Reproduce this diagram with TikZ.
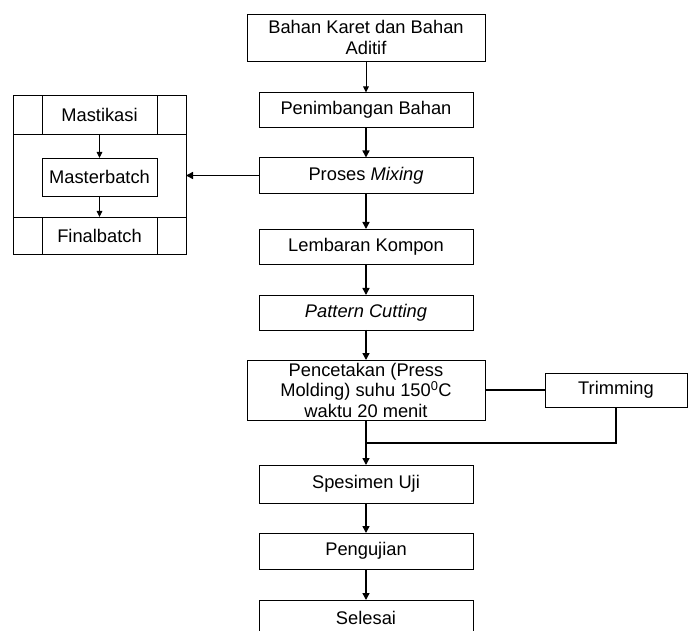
\documentclass[tikz,border=0pt]{standalone}
\usepackage{fontspec}
\setmainfont{Liberation Sans}
\usetikzlibrary{arrows.meta}
\begin{document}
\begin{tikzpicture}[x=1pt,y=-1pt,
  every node/.style={inner sep=0pt, outer sep=0pt, font=\fontsize{18.3}{20.5}\selectfont},
  box/.style={draw, line width=0.9pt, align=center, minimum width=#1},
  box/.default=214pt,
  thick arr/.style={line width=1.5pt, -{Triangle[length=7pt,width=7pt]}},
  thin arr/.style={line width=0.9pt, -{Triangle[length=6pt,width=5.5pt]}},
  plain/.style={line width=1.5pt}]
\useasboundingbox (0,0) rectangle (694,631);
\clip (0,0) rectangle (694,631);
% main column
\node[box=238pt, minimum height=47pt] (b1) at (366,37.5) {Bahan Karet dan Bahan\\Aditif};
\node[box, minimum height=35pt] (b2) at (366,110) {Penimbangan Bahan};
\node[box, minimum height=36pt] (b3) at (366,175.5) {Proses \textit{Mixing}};
\node[box, minimum height=35pt] (b4) at (366,246.5) {Lembaran Kompon};
\node[box, minimum height=35pt] (b5) at (366,312.5) {\textit{Pattern Cutting}};
\node[box=238pt, minimum height=60pt] (b6) at (366,390) {Pencetakan (Press\\Molding) suhu 150\textsuperscript{0}C\\waktu 20 menit};
\node[box=142pt, minimum height=34pt] (trim) at (616,390) {Trimming};
\node[box, minimum height=38pt] (b7) at (366,484) {Spesimen Uji};
\node[box, minimum height=36pt] (b8) at (366,551) {Pengujian};
\node[box, minimum height=36pt] (b9) at (366,618) {Selesai};
\coordinate (m) at (366,443);
% left group
\node[draw, line width=0.9pt, minimum width=173pt, minimum height=159pt] (grp) at (99.5,174.5) {};
\node[draw, line width=0.9pt, minimum width=173pt, minimum height=39pt] (mrow) at (99.5,114.5) {};
\node[box=115pt, minimum height=39pt] (mast) at (99.5,114.5) {Mastikasi};
\node[box=115pt, minimum height=38pt] (mb) at (99.5,177) {Masterbatch};
\node[draw, line width=0.9pt, minimum width=173pt, minimum height=37pt] (frow) at (99.5,235.5) {};
\node[box=115pt, minimum height=37pt] (fb) at (99.5,235.5) {Finalbatch};
% connectors
\draw[thin arr] (b1) -- (b2);
\draw[thick arr] (b2) -- (b3);
\draw[thick arr] (b3) -- (b4);
\draw[thick arr] (b4) -- (b5);
\draw[thick arr] (b5) -- (b6);
\draw[thick arr] (b3.west) -- (grp.east |- b3.west);
\draw[thin arr] (mast) -- (mb);
\draw[thin arr] (mb) -- (fb);
\draw[plain] (b6) -- (trim);
\draw[plain] (b6.south) -- (m);
\draw[plain] (trim.south) |- (m);
\draw[thick arr] (m) -- (b7);
\draw[thick arr] (b7) -- (b8);
\draw[thick arr] (b8) -- (b9);
\end{tikzpicture}
\end{document}
